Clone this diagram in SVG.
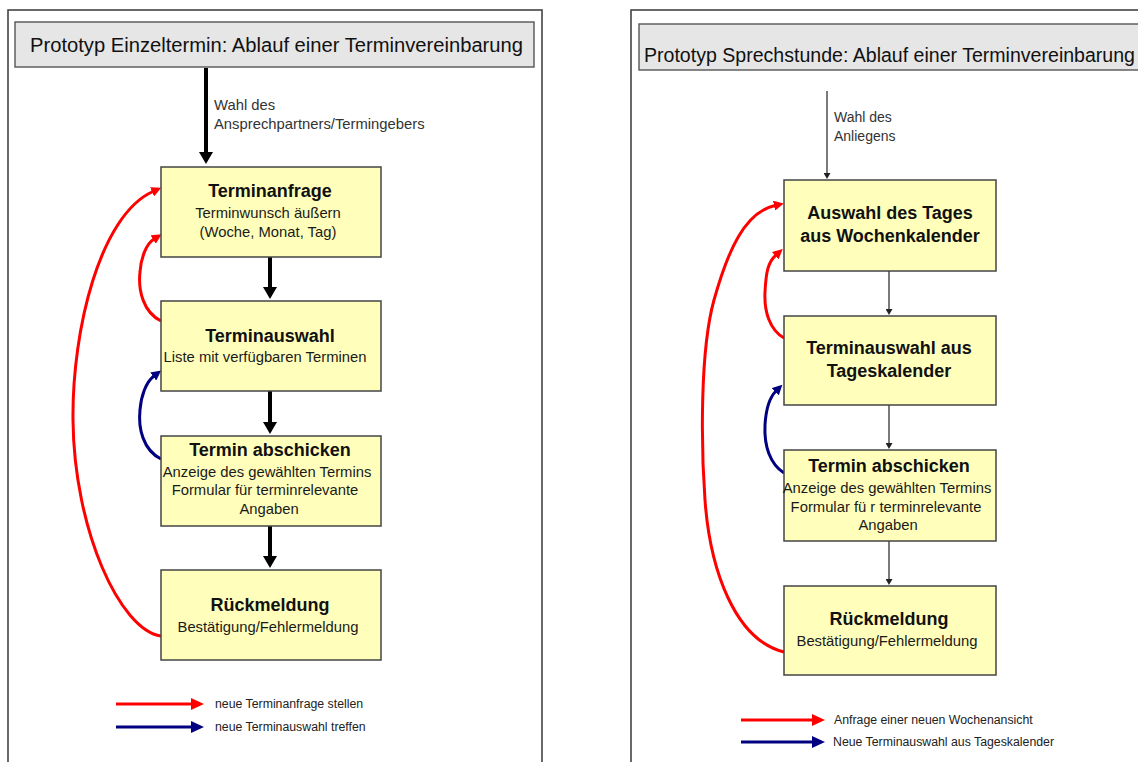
<svg xmlns="http://www.w3.org/2000/svg" width="1138" height="762" viewBox="0 0 1138 762">
<defs>
<style>
text{font-family:"Liberation Sans",Arial,sans-serif;fill:#111}
.panel{fill:#fff;stroke:#444;stroke-width:1.6}
.title{fill:#e6e6e6;stroke:#555;stroke-width:1.4}
.ttl{font-size:19.6px}
.box{fill:#ffffbb;stroke:#444;stroke-width:1.5}
.h{font-size:18px;font-weight:bold;text-anchor:middle}
.s{font-size:14.8px;text-anchor:middle;fill:#1a1a1a}
.lbl{font-size:14.8px;fill:#333}
.leg{font-size:12.3px;fill:#222}
.thick{stroke:#000;stroke-width:4;fill:none}
.thin{stroke:#222;stroke-width:1.2;fill:none}
.red{stroke:#ff0000;stroke-width:3;fill:none}
.blue{stroke:#000080;stroke-width:3;fill:none}
</style>
<marker id="hBig" markerUnits="userSpaceOnUse" markerWidth="13" markerHeight="14" viewBox="0 0 13 14" refX="2" refY="7" orient="auto"><path d="M0,0 L12,7 L0,14 z" fill="#000"/></marker>
<marker id="hThin" markerUnits="userSpaceOnUse" markerWidth="7" markerHeight="7" viewBox="0 0 7 7" refX="1" refY="3.5" orient="auto"><path d="M0,0 L6,3.5 L0,7 z" fill="#222"/></marker>
<marker id="hRed" markerUnits="userSpaceOnUse" markerWidth="11" markerHeight="10" viewBox="0 0 11 10" refX="1" refY="5" orient="auto"><path d="M0,0 L10,5 L0,10 z" fill="#ff0000"/></marker>
<marker id="hBlue" markerUnits="userSpaceOnUse" markerWidth="11" markerHeight="10" viewBox="0 0 11 10" refX="1" refY="5" orient="auto"><path d="M0,0 L10,5 L0,10 z" fill="#000080"/></marker>
<marker id="lRed" markerUnits="userSpaceOnUse" markerWidth="14" markerHeight="12" viewBox="0 0 14 12" refX="1" refY="6" orient="auto"><path d="M0,0 L13,6 L0,12 z" fill="#ff0000"/></marker>
<marker id="lBlue" markerUnits="userSpaceOnUse" markerWidth="14" markerHeight="12" viewBox="0 0 14 12" refX="1" refY="6" orient="auto"><path d="M0,0 L13,6 L0,12 z" fill="#000080"/></marker>
</defs>
<rect width="1138" height="762" fill="#fff"/>

<g id="panel-left">
<rect class="panel" x="8" y="10" width="534" height="800"/>
<rect class="title" x="15" y="22" width="519" height="45"/>
<text class="ttl" x="30" y="52" textLength="493" lengthAdjust="spacingAndGlyphs">Prototyp Einzeltermin: Ablauf einer Terminvereinbarung</text>
</g>
<g id="panel-right">
<rect class="panel" x="631" y="10" width="600" height="800"/>
<rect class="title" x="639" y="24" width="520" height="46"/>
<text class="ttl" x="644" y="62" textLength="491" lengthAdjust="spacingAndGlyphs">Prototyp Sprechstunde: Ablauf einer Terminvereinbarung</text>
</g>

<g id="connectors">
<line class="thick" x1="206" y1="68" x2="206" y2="154" marker-end="url(#hBig)"/>
<line class="thick" x1="270" y1="257" x2="270" y2="289" marker-end="url(#hBig)"/>
<line class="thick" x1="270" y1="391" x2="270" y2="424" marker-end="url(#hBig)"/>
<line class="thick" x1="270" y1="526" x2="270" y2="558" marker-end="url(#hBig)"/>
<path class="red" d="M161,636 C120,630 74,530 73,420 C72,330 100,215 153,191.5" marker-end="url(#hRed)"/>
<path class="red" d="M161,321 C143,312 138,290 140,272 C141,258 146,244 154,239" marker-end="url(#hRed)"/>
<path class="blue" d="M161,459 C143,450 138,428 140,410 C141,396 146,382 154,376" marker-end="url(#hBlue)"/>
<line class="thin" x1="827" y1="91" x2="827" y2="174" marker-end="url(#hThin)"/>
<line class="thin" x1="889" y1="271" x2="889" y2="310" marker-end="url(#hThin)"/>
<line class="thin" x1="889" y1="405" x2="889" y2="444" marker-end="url(#hThin)"/>
<line class="thin" x1="889" y1="541" x2="889" y2="580" marker-end="url(#hThin)"/>
<path class="red" d="M784,652 C735,640 710,570 705,500 C701,445 700,350 714,300 C728,250 745,212 775,205.5" marker-end="url(#hRed)"/>
<path class="red" d="M784,338 C770,330 764,312 765,292 C766,272 768,262 776,255" marker-end="url(#hRed)"/>
<path class="blue" d="M784,473 C770,464 764,446 765,425 C766,408 769,398 776,391" marker-end="url(#hBlue)"/>
</g>

<g id="label-left-entry">
<text class="lbl" x="214" y="110">Wahl des</text>
<text class="lbl" x="214" y="129">Ansprechpartners/Termingebers</text>
</g>
<g id="label-right-entry">
<text class="lbl" x="834" y="122" style="font-size:14px">Wahl des</text>
<text class="lbl" x="834" y="141" style="font-size:14px">Anliegens</text>
</g>

<g id="L1">
<rect class="box" x="161" y="167" width="220" height="90"/>
<text class="h" x="270" y="197">Terminanfrage</text>
<text class="s" x="268" y="218">Terminwunsch äußern</text>
<text class="s" x="268" y="237">(Woche, Monat, Tag)</text>
</g>
<g id="L2">
<rect class="box" x="161" y="301" width="220" height="90"/>
<text class="h" x="270" y="342">Terminauswahl</text>
<text class="s" x="265" y="362">Liste mit verfügbaren Terminen</text>
</g>
<g id="L3">
<rect class="box" x="161" y="436" width="220" height="90"/>
<text class="h" x="270" y="456">Termin abschicken</text>
<text class="s" x="267" y="477">Anzeige des gewählten Termins</text>
<text class="s" x="265" y="495">Formular für terminrelevante</text>
<text class="s" x="269" y="514">Angaben</text>
</g>
<g id="L4">
<rect class="box" x="161" y="570" width="220" height="90"/>
<text class="h" x="270" y="611">Rückmeldung</text>
<text class="s" x="268" y="632">Bestätigung/Fehlermeldung</text>
</g>

<g id="R1">
<rect class="box" x="784" y="180" width="212" height="91"/>
<text class="h" x="890" y="219">Auswahl des Tages</text>
<text class="h" x="890" y="242">aus Wochenkalender</text>
</g>
<g id="R2">
<rect class="box" x="784" y="316" width="212" height="89"/>
<text class="h" x="889" y="354">Terminauswahl aus</text>
<text class="h" x="889" y="377">Tageskalender</text>
</g>
<g id="R3">
<rect class="box" x="784" y="450" width="212" height="91"/>
<text class="h" x="889" y="472">Termin abschicken</text>
<text class="s" x="887" y="493">Anzeige des gewählten Termins</text>
<text class="s" x="886" y="512">Formular fü r terminrelevante</text>
<text class="s" x="888" y="530">Angaben</text>
</g>
<g id="R4">
<rect class="box" x="784" y="586" width="212" height="89"/>
<text class="h" x="889" y="625">Rückmeldung</text>
<text class="s" x="887" y="646">Bestätigung/Fehlermeldung</text>
</g>

<g id="legend-left">
<line class="red" x1="116" y1="704" x2="192" y2="704" stroke-width="3.5" marker-end="url(#lRed)"/>
<text class="leg" x="215" y="708">neue Terminanfrage stellen</text>
<line class="blue" x1="116" y1="727" x2="192" y2="727" stroke-width="3.5" marker-end="url(#lBlue)"/>
<text class="leg" x="215" y="731">neue Terminauswahl treffen</text>
</g>
<g id="legend-right">
<line class="red" x1="741" y1="720" x2="813" y2="720" stroke-width="3.5" marker-end="url(#lRed)"/>
<text class="leg" x="834" y="724">Anfrage einer neuen Wochenansicht</text>
<line class="blue" x1="741" y1="742" x2="813" y2="742" stroke-width="3.5" marker-end="url(#lBlue)"/>
<text class="leg" x="833" y="746">Neue Terminauswahl aus Tageskalender</text>
</g>
</svg>
